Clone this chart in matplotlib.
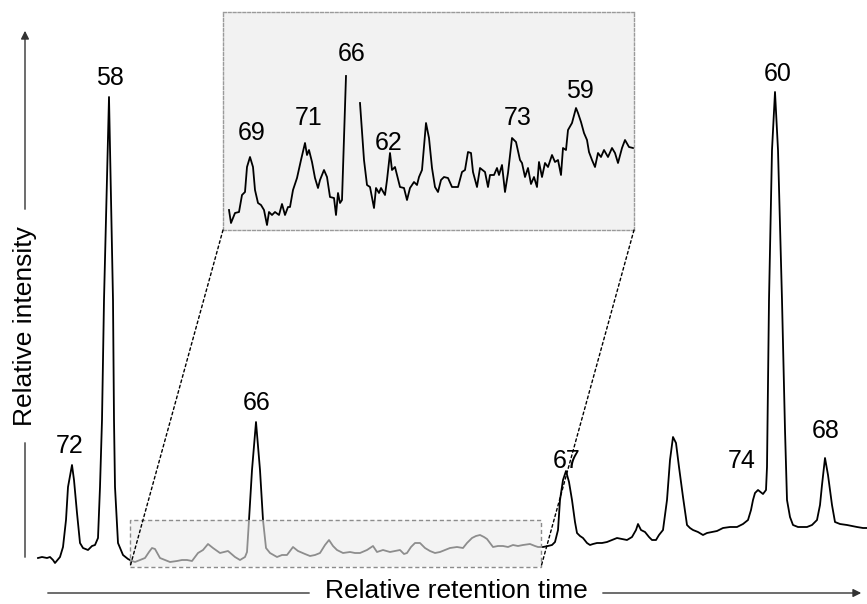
import numpy as np
import matplotlib
matplotlib.use("Agg")
import matplotlib.pyplot as plt
from matplotlib.patches import Rectangle, ConnectionPatch

plt.rcParams['font.family'] = ['Liberation Sans', 'DejaVu Sans']

# main chromatogram (retention time, relative intensity)
main_t = [38, 42, 47, 50, 53, 55, 60, 63, 66, 68,
          72, 74, 77, 80, 83, 88, 92, 95, 98, 100,
          102, 104, 109, 113, 114, 115, 118, 123, 128, 132,
          135, 140, 145, 149, 152, 155, 160, 165, 170, 177,
          182, 187, 192, 198, 203, 208, 213, 220, 228, 235,
          240, 245, 247, 249, 252, 256, 260, 263, 266, 270,
          277, 282, 287, 293, 298, 305, 310, 315, 320, 325,
          329, 333, 337, 343, 350, 355, 360, 367, 373, 377,
          383, 390, 395, 400, 404, 407, 411, 415, 420, 425,
          430, 435, 440, 445, 450, 457, 463, 467, 472, 476,
          480, 484, 487, 493, 498, 503, 508, 513, 518, 523,
          530, 535, 538, 543, 548, 552, 555, 558, 560, 563,
          566, 569, 572, 575, 577, 580, 583, 587, 590, 593,
          597, 602, 607, 612, 617, 622, 627, 632, 636, 638,
          641, 645, 649, 652, 656, 659, 663, 667, 670, 673,
          676, 679, 683, 687, 690, 693, 698, 703, 707, 712,
          717, 723, 730, 737, 743, 748, 751, 753, 755, 758,
          763, 766, 767, 769, 772, 775, 778, 782, 785, 787,
          790, 793, 798, 803, 807, 812, 817, 820, 822, 825,
          828, 830, 832, 835, 840, 847, 852, 857, 863, 867]
main_int = [12, 13, 12, 13, 10, 7, 13, 23, 50, 83,
            105, 90, 57, 27, 22, 20, 24, 25, 32, 83,
            150, 270, 473, 270, 150, 83, 27, 15, 11, 9,
            8, 10, 12, 18, 22, 21, 12, 10, 8, 9,
            10, 10, 9, 17, 20, 26, 22, 17, 19, 13,
            10, 13, 18, 50, 100, 148, 100, 50, 22, 17,
            13, 15, 15, 23, 19, 16, 14, 15, 17, 25,
            30, 24, 20, 17, 18, 17, 17, 20, 24, 18,
            20, 18, 19, 20, 16, 17, 23, 27, 27, 22,
            19, 17, 18, 20, 22, 23, 22, 27, 32, 34,
            35, 33, 31, 23, 24, 24, 23, 25, 24, 25,
            26, 24, 23, 23, 24, 25, 28, 40, 70, 90,
            99, 88, 70, 48, 37, 34, 32, 27, 25, 26,
            27, 27, 28, 30, 32, 31, 30, 33, 40, 46,
            40, 38, 33, 30, 30, 35, 40, 70, 110, 133,
            127, 103, 73, 45, 42, 40, 38, 35, 37, 38,
            39, 42, 43, 43, 46, 50, 60, 70, 77, 80,
            76, 80, 103, 270, 420, 478, 420, 270, 140, 70,
            53, 45, 43, 43, 43, 45, 50, 65, 85, 112,
            95, 80, 65, 48, 46, 45, 44, 43, 42, 42]

main_labels = ['72', '58', '66', '67', '74', '60', '68']
main_label_t = [72, 109, 256, 566, 758, 775, 825]
main_label_int = [105, 473, 148, 99, 80, 478, 112]

# zoomed region (time window and intensity window in the main trace)
zoom_t = [130, 541]
zoom_int = [3, 50]

# zoomed trace (NaN = trace leaves the box at the top)
inset_t = [229, 231, 235, 239, 242, 245, 247, 250, 253, 255,
           258, 261, 264, 267, 269, 272, 275, 279, 282, 285,
           288, 290, 293, 297, 301, 305, 307, 309, 312, 315,
           318, 320, 324, 327, 330, 334, 336, 338, 340, 342,
           346, 353, 360, 364, 367, 370, 374, 376, 379, 381,
           385, 387, 390, 392, 395, 397, 400, 404, 407, 410,
           414, 417, 419, 422, 426, 429, 432, 435, 438, 441,
           444, 448, 452, 458, 462, 465, 468, 471, 473, 477,
           480, 485, 488, 490, 494, 497, 499, 502, 505, 508,
           512, 516, 520, 522, 525, 528, 531, 534, 537, 539,
           542, 545, 548, 552, 555, 558, 561, 563, 566, 568,
           572, 576, 578, 581, 584, 587, 589, 592, 595, 598,
           601, 604, 608, 612, 615, 618, 622, 625, 629, 633]
inset_int = [20, 7, 17, 18, 35, 38, 63, 73, 63, 40,
             27, 25, 20, 5, 18, 15, 18, 15, 26, 15,
             23, 23, 40, 52, 70, 87, 75, 80, 68, 52,
             42, 50, 60, 53, 33, 32, 15, 37, 27, 30,
             154, np.nan, 127, 70, 45, 43, 22, 42, 37, 42,
             35, 50, 77, 60, 63, 55, 43, 42, 30, 42,
             48, 45, 53, 60, 107, 92, 62, 43, 38, 50,
             53, 52, 43, 43, 58, 60, 78, 77, 58, 43,
             62, 58, 43, 55, 55, 62, 55, 65, 38, 57,
             92, 88, 70, 67, 53, 62, 46, 53, 43, 68,
             53, 67, 63, 75, 68, 70, 55, 82, 80, 100,
             107, 122, 117, 108, 97, 90, 78, 70, 63, 77,
             73, 80, 73, 82, 77, 67, 82, 90, 83, 82]

inset_labels = ['69', '71', '66', '62', '73', '59']
inset_label_t = [250, 305, 346, 390, 512, 576]
inset_label_int = [73, 87, 154, 77, 92, 122]

# label offsets (pixels) from the peak top to the label baseline
main_offsets = [(-2, 12), (1, 12), (1, 12), (1, 3), (-16, 22), (3, 11), (1, 20)]
inset_offsets = [(2, 17), (4, 18), (6, 15), (-1, 3), (6, 13), (4, 10)]

W, H = 867, 604
fig = plt.figure(figsize=(W / 100, H / 100), dpi=100)
ax = fig.add_axes([0, 0, 1, 1])
ax.set_xlim(0, W)
ax.set_ylim(-34, 570)
ax.axis('off')

ax.plot(main_t, main_int, color='black', lw=1.3, zorder=2)

# translucent box over the zoomed part of the trace
ax.add_patch(Rectangle((zoom_t[0], zoom_int[0]), zoom_t[1] - zoom_t[0],
                       zoom_int[1] - zoom_int[0], facecolor='#ececec',
                       alpha=0.6, edgecolor='none', zorder=3))
ax.add_patch(Rectangle((zoom_t[0], zoom_int[0]), zoom_t[1] - zoom_t[0],
                       zoom_int[1] - zoom_int[0], facecolor='none',
                       edgecolor='#8c8c8c', lw=1, ls=(0, (3, 2)), zorder=4))

for lab, t, y, off in zip(main_labels, main_label_t, main_label_int, main_offsets):
    ax.annotate(lab, xy=(t, y), xytext=off, textcoords='offset pixels',
                ha='center', va='baseline', fontsize=18)

# inset
axin = fig.add_axes([223 / W, 374 / H, 411 / W, 218 / H])
axin.set_facecolor('#f2f2f2')
axin.set_xlim(223, 634)
axin.set_ylim(0, 218)
axin.set_xticks([])
axin.set_yticks([])
for sp in axin.spines.values():
    sp.set_color('#9a9a9a')
    sp.set_linewidth(1)
    sp.set_linestyle((0, (2, 1.5)))
axin.plot(inset_t, inset_int, color='black', lw=1.3)
for lab, t, y, off in zip(inset_labels, inset_label_t, inset_label_int, inset_offsets):
    axin.annotate(lab, xy=(t, y), xytext=off, textcoords='offset pixels',
                  ha='center', va='baseline', fontsize=18)

# dotted connector lines
for fx, tx in [(0, zoom_t[0]), (1, zoom_t[1])]:
    con = ConnectionPatch(xyA=(fx, 0), coordsA=axin.transAxes,
                          xyB=(tx, zoom_int[0]), coordsB=ax.transData,
                          color='black', lw=1, ls=(0, (2, 2)))
    fig.add_artist(con)

# axis arrows with labels
arrow = dict(arrowstyle='-|>', color='#333333', lw=1, mutation_scale=12)
ax.annotate('', xy=(25, H - 28), xytext=(25, H - 212),
            xycoords='figure pixels', arrowprops=arrow)
ax.annotate('', xy=(25, H - 560), xytext=(25, H - 440),
            xycoords='figure pixels',
            arrowprops=dict(arrowstyle='-', color='#333333', lw=1))
fig.text(25 / W, 1 - 326 / H, 'Relative intensity', rotation=90,
         ha='center', va='center', fontsize=19)

ax.annotate('', xy=(864, H - 593), xytext=(600, H - 593),
            xycoords='figure pixels', arrowprops=arrow)
ax.annotate('', xy=(45, H - 593), xytext=(312, H - 593),
            xycoords='figure pixels',
            arrowprops=dict(arrowstyle='-', color='#333333', lw=1))
fig.text(456 / W, 1 - 591 / H, 'Relative retention time',
         ha='center', va='center', fontsize=19)

fig.savefig('out.png', dpi=100)
